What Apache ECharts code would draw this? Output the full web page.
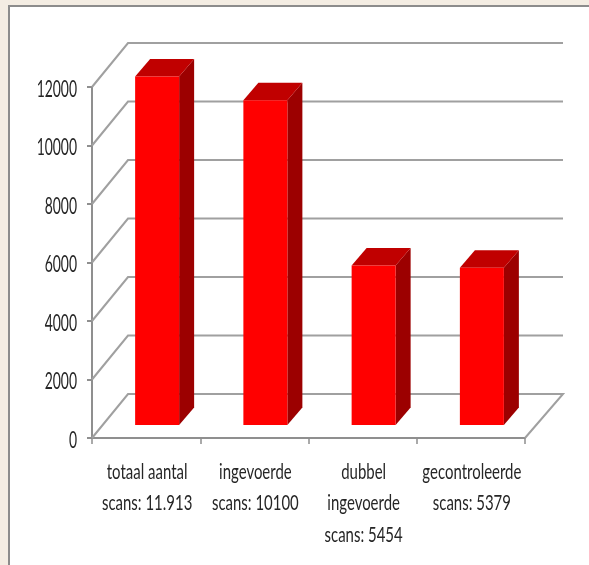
<!DOCTYPE html>
<html><head><meta charset="utf-8">
<style>html,body{margin:0;padding:0;background:#f4ede3}#c{width:589px;height:565px}</style>
<script src="https://cdn.jsdelivr.net/npm/echarts@6/dist/echarts.min.js"></script>
</head><body><div id="c"></div>
<script>
const categories = ['totaal aantal\nscans: 11.913','ingevoerde\nscans: 10100','dubbel\ningevoerde\nscans: 5454','gecontroleerde\nscans: 5379'];
const values = [11913, 11100, 5454, 5379];
const gridValues = [0,2000,4000,6000,8000,10000,12000];
const FONT = 'Lato,sans-serif';
const chart = echarts.init(document.getElementById('c'));
chart.setOption({
  animation:false,
  backgroundColor:'#f4ede3',
  graphic:[{type:'rect',z:-10,shape:{x:9,y:6,width:640,height:620},style:{fill:'#fff',stroke:'#8c8c8c',lineWidth:2}}],
  grid:{left:92,right:64,top:87,bottom:127},
  xAxis:{type:'category',data:categories,
    axisLine:{lineStyle:{color:'#8f8f8f',width:2}},
    axisTick:{show:true,length:6,alignWithLabel:false,lineStyle:{color:'#8f8f8f',width:1.5}},
    axisLabel:{show:false}},
  yAxis:{type:'value',min:0,max:12000,interval:2000,
    axisLine:{show:true,lineStyle:{color:'#8f8f8f',width:2}},
    axisTick:{show:true,length:5,lineStyle:{color:'#8f8f8f',width:2}},
    splitLine:{show:false},
    axisLabel:{show:false}},
  series:[
   {type:'custom',z:1,silent:true,coordinateSystem:'cartesian2d',data:gridValues.map(v=>[0,v]),
    encode:{x:0,y:1},clip:false,
    renderItem(params,api){
      const cs=params.coordSys, v=api.value(1), y=api.coord([0,v])[1];
      const l=cs.x, r=cs.x+cs.width, dx=36, dy=44;
      const pts=[[l,y],[l+dx,y-dy],[r+38,y-dy]];
      if(v===0) pts.push([r,y]);
      return {type:'group',children:[
        {type:'polyline',shape:{points:pts},style:{fill:null,stroke:'#a0a0a0',lineWidth:2}},
        {type:'text',x:l-15,y:y+2,scaleX:0.58,style:{text:String(v),textAlign:'right',textVerticalAlign:'middle',fontFamily:FONT,fontSize:24,fill:'#262626'}}
      ]};
    }},
   {type:'custom',z:2,silent:true,coordinateSystem:'cartesian2d',data:values.map((v,i)=>[i,v]),
    encode:{x:0,y:1},clip:false,
    renderItem(params,api){
      const i=api.value(0);
      const p=api.coord([i,api.value(1)]), b=api.coord([i,0]);
      const w=44, ox=11, oy=13, dx=15, dy=17.5;
      const x0=p[0]+ox-w/2, x1=x0+w, top=p[1]-oy, bot=b[1]-oy;
      return {type:'group',children:[
        {type:'polygon',shape:{points:[[x1,top],[x1+dx,top-dy],[x1+dx,bot-dy],[x1,bot]]},style:{fill:'#9c0000'}},
        {type:'polygon',shape:{points:[[x0,top],[x0+dx,top-dy],[x1+dx,top-dy],[x1,top]]},style:{fill:'#c00000'}},
        {type:'rect',shape:{x:x0,y:top,width:w,height:bot-top},style:{fill:'#ff0000'}},
        {type:'text',x:p[0]+1,y:b[1]+18,scaleX:0.68,style:{text:categories[i],textAlign:'center',textVerticalAlign:'top',fontFamily:FONT,fontSize:22,lineHeight:31.5,fill:'#262626'}}
      ]};
    }}
  ]
});
</script></body></html>
